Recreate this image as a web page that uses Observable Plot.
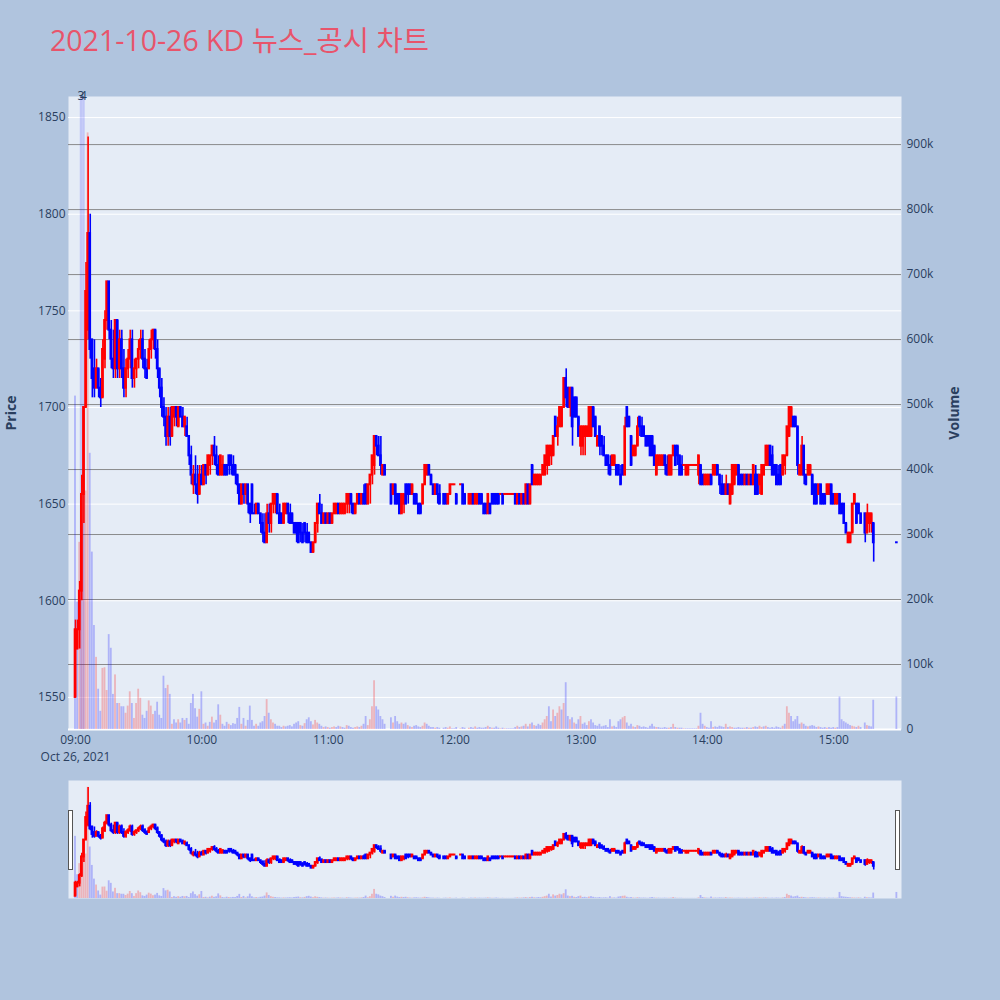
<!DOCTYPE html>
<html><head><meta charset="utf-8">
<script src="https://cdn.jsdelivr.net/npm/d3@7"></script>
<script src="https://cdn.jsdelivr.net/npm/@observablehq/plot@0.6"></script>
<style>
html,body{margin:0;padding:0;background:#b0c4de;}
#root{position:relative;width:1000px;height:1000px;overflow:hidden;font-family:"Open Sans",sans-serif;}
#root svg{position:absolute;left:0;}
.title{position:absolute;left:50px;top:20px;font-size:28.5px;line-height:40px;color:#e8546b;font-family:"Open Sans","Noto Sans CJK KR",sans-serif;white-space:nowrap;}
.ytitle{position:absolute;font-size:14px;font-weight:bold;color:#2a3f5f;transform:translate(-50%,-50%) rotate(-90deg);white-space:nowrap;font-family:"Open Sans",sans-serif;}
.grab{position:absolute;width:3px;height:58px;background:#fff;border:1px solid #555;}
</style></head>
<body><div id="root">
<div class="title">2021-10-26 KD 뉴스_공시 차트</div>
<div class="ytitle" style="left:10px;top:413px;">Price</div>
<div class="ytitle" style="left:953px;top:413px;">Volume</div>
</div>
<script>
// ---- data (minute candles, 2021-10-26) ----
const minutes = [...d3.range(0, 380), 390];
const opens = [
1550,1575,1585,1605,1655,1700,1740,1790,1735,1720,
1710,1720,1710,1705,1725,1745,1765,1740,1725,1720,
1745,1720,1735,1720,1710,1720,1725,1735,1715,1720,
1725,1730,1735,1725,1720,1720,1730,1735,1740,1730,
1720,1710,1700,1695,1685,1695,1685,1695,1700,1690,
1700,1695,1690,1690,1685,1675,1660,1665,1660,1655,
1665,1660,1670,1665,1670,1675,1680,1675,1670,1665,
1665,1670,1670,1675,1675,1670,1670,1665,1660,1650,
1660,1655,1660,1650,1660,1645,1645,1650,1645,1640,
1635,1630,1645,1640,1650,1650,1655,1645,1645,1640,
1645,1650,1645,1645,1640,1640,1640,1640,1635,1640,
1635,1635,1630,1625,1630,1640,1650,1645,1640,1645,
1640,1645,1640,1645,1645,1650,1645,1645,1645,1650,
1650,1655,1650,1645,1650,1655,1650,1655,1660,1650,
1660,1665,1670,1685,1680,1675,1665,1670,null,null,
1660,1655,1660,1655,1655,1645,1650,1660,1660,1660,
1655,1655,1655,1650,1650,1650,1660,1665,1670,1665,
1660,1655,1660,1655,null,1655,1655,1650,1655,1660,
1660,1655,null,1660,1660,1655,null,1650,1650,1655,
1650,1650,1655,1655,1650,1650,1645,1650,1655,1655,
1655,1655,1655,1655,1655,1655,1655,1655,1655,1655,
1650,1655,1650,1655,1650,1660,1650,1670,1660,1660,
1660,1660,1665,1665,1670,1670,1675,1675,1695,1685,
1690,1690,1700,1715,1710,1700,1710,1705,1705,1695,
1680,1680,1685,1685,1685,1685,1700,1695,1680,1690,
1685,1680,1675,1675,1670,1670,1670,1670,1670,1665,
1670,1665,1700,1695,1685,1675,1675,1680,1695,1690,
1690,1685,1685,1685,1685,1680,1665,1670,1670,1670,
1675,1670,1665,1665,1675,1680,1680,1675,1670,1670,
1665,1665,1670,1670,1670,1670,1665,1670,1665,1660,
1660,1660,1665,1665,1665,1670,1665,1660,1660,1655,
1660,1650,1655,1660,1665,1670,1665,1665,1660,1665,
1660,1665,1660,1665,1665,1660,1655,1665,1670,1670,
1680,1675,1670,1670,1665,1670,1665,1670,1675,1685,
1690,1695,1695,1690,1665,1665,1680,1665,1665,1665,
1665,1660,1660,1655,1660,1655,1655,1655,1655,1660,
1655,1650,1650,1655,1650,1650,1640,1630,1630,1635,
1650,1650,1650,1645,null,1645,1635,1640,1640,1640,
1630];
const highs = [
1590,1590,1610,1665,1700,1775,1840,1800,1735,1735,
1725,1720,1715,1735,1750,1765,1765,1745,1740,1745,
1745,1740,1740,1730,1725,1730,1740,1740,1725,1725,
1735,1740,1740,1730,1725,1735,1740,1740,1740,1735,
1720,1715,1705,1700,1700,1700,1700,1700,1700,1700,
1700,1700,1695,1695,1685,1680,1670,1675,1670,1670,
1670,1670,1670,1675,1675,1680,1685,1680,1675,1675,
1675,1670,1670,1675,1675,1675,1670,1665,1660,1660,
1660,1660,1660,1650,1660,1650,1650,1650,1645,1645,
1645,1650,1650,1650,1655,1655,1655,1650,1645,1650,
1650,1650,1650,1645,1640,1640,1640,1640,1640,1640,
1640,1635,1630,1630,1640,1650,1655,1650,1645,1645,
1645,1645,1645,1650,1650,1650,1650,1650,1650,1655,
1655,1655,1650,1650,1655,1655,1655,1660,1660,1660,
1665,1675,1685,1685,1685,1685,1670,1670,null,null,
1660,1660,1660,1655,1655,1655,1655,1660,1660,1660,
1660,1655,1655,1650,1650,1660,1670,1670,1670,1665,
1660,1660,1660,1660,null,1655,1655,1655,1660,1660,
1660,1655,null,1660,1660,1655,null,1655,1655,1655,
1655,1655,1655,1655,1650,1650,1655,1650,1655,1655,
1655,1655,1655,1655,1655,1655,1655,1655,1655,1655,
1655,1655,1655,1655,1660,1660,1660,1670,1665,1665,
1665,1665,1670,1675,1680,1680,1680,1685,1695,1695,
1700,1700,1715,1720,1710,1710,1710,1705,1705,1695,
1690,1690,1690,1690,1700,1700,1700,1695,1685,1690,
1685,1685,1675,1675,1675,1675,1675,1670,1670,1670,
1670,1695,1700,1695,1685,1680,1680,1695,1695,1695,
1690,1685,1685,1685,1685,1680,1675,1675,1675,1675,
1675,1675,1675,1675,1680,1680,1680,1675,1675,1670,
1670,1670,1670,1670,1670,1670,1675,1670,1665,1665,
1665,1665,1665,1670,1670,1670,1665,1665,1660,1665,
1660,1660,1670,1670,1670,1670,1665,1665,1665,1665,
1665,1665,1670,1670,1665,1665,1670,1670,1680,1680,
1680,1680,1670,1670,1670,1670,1675,1675,1690,1700,
1700,1695,1695,1690,1670,1685,1680,1665,1670,1670,
1665,1660,1660,1660,1660,1655,1655,1660,1660,1660,
1655,1655,1655,1655,1650,1650,1640,1635,1635,1650,
1655,1650,1650,1645,null,1645,1650,1645,1645,1640,
1630];
const lows = [
1550,1575,1575,1600,1640,1700,1735,1725,1705,1705,
1710,1705,1700,1705,1720,1740,1735,1720,1715,1715,
1715,1715,1715,1705,1705,1715,1720,1710,1710,1715,
1720,1725,1720,1715,1715,1720,1725,1730,1725,1715,
1705,1695,1690,1680,1680,1680,1685,1690,1690,1690,
1695,1690,1685,1685,1670,1660,1655,1655,1650,1655,
1660,1660,1660,1665,1665,1670,1670,1665,1665,1665,
1665,1665,1665,1665,1665,1665,1660,1655,1650,1650,
1650,1650,1645,1640,1645,1645,1645,1645,1635,1630,
1630,1630,1635,1635,1645,1645,1645,1640,1640,1640,
1645,1640,1640,1640,1635,1630,1630,1630,1630,1630,
1630,1630,1625,1625,1630,1635,1645,1640,1640,1640,
1640,1640,1640,1645,1645,1645,1645,1645,1645,1645,
1645,1645,1645,1645,1650,1650,1650,1650,1650,1650,
1650,1660,1665,1675,1675,1665,1665,1665,null,null,
1650,1655,1650,1650,1645,1645,1645,1650,1650,1655,
1655,1650,1650,1645,1645,1650,1660,1665,1665,1660,
1655,1655,1650,1650,null,1650,1650,1650,1655,1660,
1660,1650,null,1660,1650,1650,null,1650,1650,1650,
1650,1650,1650,1650,1645,1645,1645,1645,1650,1650,
1650,1650,1655,1650,1655,1655,1655,1655,1655,1650,
1650,1650,1650,1650,1650,1650,1650,1660,1660,1660,
1660,1660,1665,1665,1665,1670,1670,1675,1685,1680,
1690,1690,1700,1700,1700,1695,1680,1695,1695,1685,
1675,1675,1675,1685,1685,1685,1690,1685,1680,1675,
1675,1675,1670,1665,1665,1670,1670,1665,1665,1660,
1665,1665,1690,1690,1670,1675,1675,1680,1685,1685,
1685,1680,1680,1675,1675,1670,1665,1670,1670,1670,
1665,1665,1665,1665,1675,1670,1670,1665,1665,1670,
1665,1665,1670,1670,1670,1670,1660,1660,1660,1660,
1660,1660,1660,1665,1665,1665,1655,1655,1655,1655,
1655,1650,1655,1660,1665,1660,1660,1660,1660,1660,
1660,1660,1660,1655,1655,1655,1655,1665,1670,1670,
1670,1665,1665,1660,1660,1660,1665,1665,1675,1685,
1690,1690,1690,1665,1665,1665,1660,1660,1665,1665,
1655,1650,1650,1655,1650,1650,1650,1655,1655,1650,
1650,1650,1650,1645,1645,1640,1635,1630,1630,1635,
1650,1640,1645,1640,null,1630,1635,1635,1635,1620,
1630];
const closes = [
1585,1585,1605,1655,1700,1760,1790,1730,1715,1710,
1720,1710,1705,1730,1745,1765,1740,1725,1720,1745,
1720,1735,1720,1710,1720,1725,1735,1715,1720,1725,
1730,1735,1725,1720,1715,1730,1735,1740,1730,1720,
1710,1700,1695,1685,1695,1685,1700,1700,1695,1700,
1695,1690,1695,1685,1675,1665,1665,1660,1655,1665,
1660,1670,1665,1675,1675,1680,1675,1670,1665,1675,
1670,1665,1665,1670,1670,1665,1665,1660,1650,1660,
1655,1660,1650,1645,1645,1645,1650,1645,1640,1635,
1630,1645,1640,1650,1655,1655,1645,1640,1640,1650,
1650,1645,1640,1640,1635,1635,1630,1635,1630,1635,
1630,1630,1625,1630,1640,1650,1645,1640,1645,1640,
1645,1640,1645,1650,1650,1645,1650,1650,1650,1655,
1655,1650,1645,1650,1655,1650,1655,1650,1650,1660,
1665,1675,1685,1680,1675,1670,1670,1665,null,null,
1650,1660,1650,1650,1645,1655,1655,1650,1655,1655,
1660,1650,1650,1645,1645,1660,1670,1670,1665,1660,
1655,1660,1655,1650,null,1650,1650,1655,1660,1660,
1660,1650,null,1660,1650,1650,null,1655,1655,1650,
1655,1655,1650,1650,1645,1645,1655,1645,1650,1650,
1650,1650,1655,1650,1655,1655,1655,1655,1655,1650,
1655,1650,1655,1650,1660,1650,1660,1660,1665,1665,
1665,1665,1670,1675,1680,1680,1680,1685,1685,1690,
1700,1700,1715,1705,1700,1710,1690,1695,1695,1685,
1690,1690,1690,1690,1700,1700,1690,1685,1685,1680,
1680,1675,1670,1670,1665,1675,1675,1665,1665,1660,
1665,1690,1690,1690,1670,1680,1680,1690,1690,1685,
1685,1680,1680,1675,1675,1670,1675,1675,1675,1675,
1670,1665,1675,1675,1680,1670,1675,1665,1665,1670,
1670,1670,1670,1670,1670,1670,1675,1660,1660,1665,
1665,1665,1660,1670,1670,1665,1660,1655,1655,1660,
1655,1660,1670,1670,1670,1660,1660,1660,1665,1660,
1665,1660,1670,1655,1655,1665,1670,1670,1680,1680,
1670,1665,1665,1660,1660,1660,1675,1675,1690,1700,
1700,1690,1690,1670,1670,1680,1665,1660,1670,1670,
1655,1650,1650,1660,1650,1650,1650,1660,1660,1650,
1650,1655,1655,1645,1645,1640,1635,1635,1635,1650,
1655,1640,1645,1640,null,1635,1645,1645,1645,1630,
1630];
// volume in thousands of shares
const volumesK = [
513,196,288,350,400,367,918,425,273,160,
111,62,28,94,95,60,146,125,54,84,
40,40,35,35,25,36,58,40,17,40,
62,48,22,17,28,44,36,23,28,42,
22,17,82,63,68,54,8,15,10,15,
10,17,14,17,8,40,54,32,19,31,
58,8,10,5,11,19,10,14,38,22,
8,5,11,8,6,9,8,17,34,8,
17,5,14,36,14,5,8,5,10,12,
20,46,25,15,10,8,5,5,3,5,
4,5,6,4,8,10,12,6,5,9,
15,18,12,7,14,10,8,5,3,4,
3,2,3,4,3,5,4,3,2,6,
5,3,2,3,4,3,5,8,20,6,
15,35,75,35,30,20,15,8,0,0,
18,10,20,12,8,10,8,10,6,4,
3,5,6,4,3,5,10,8,5,3,
3,2,3,2,0,2,3,2,4,1,
1,3,0,1,3,2,0,2,3,2,
4,2,3,2,2,3,5,3,2,2,
4,2,1,2,1,1,1,1,1,3,
5,3,4,5,8,4,8,10,6,5,
8,6,10,15,20,35,12,30,20,25,
35,30,40,72,20,15,18,10,8,15,
20,8,10,6,12,15,10,6,5,8,
4,5,6,3,15,4,5,3,12,15,
18,20,10,5,8,4,3,6,5,3,
4,3,2,5,8,4,3,3,2,2,
3,2,2,3,8,3,2,2,2,1,
1,1,1,1,1,1,5,25,8,5,
3,2,12,3,4,3,5,4,3,8,
3,4,3,2,2,3,2,2,2,3,
2,2,3,4,3,5,3,4,5,3,
2,3,2,4,3,2,5,8,35,25,
20,12,15,20,8,10,8,5,4,5,
6,5,3,4,3,2,3,2,3,2,
3,2,3,50,15,12,10,8,6,5,
4,3,5,3,0,10,6,5,4,45,
50];
// news markers (minutes after 09:00) and their labels
const newsMinutes = [2.6, 3.8];
const newsLabels = ["3", "4"];
// axis ticks
const priceTicks = [1550, 1600, 1650, 1700, 1750, 1800, 1850];
const volumeTicks = [0, 100000, 200000, 300000, 400000, 500000, 600000, 700000, 800000, 900000];
const hourTicks = [9, 10, 11, 12, 13, 14, 15];
const dateLabel = "Oct 26, 2021";

// ---- build ----
const base = Date.UTC(2021, 9, 26, 9, 0);
const toDate = m => new Date(base + m * 60000);
let rows = minutes.map((m, i) => ({
  date: toDate(m), open: opens[i], high: highs[i], low: lows[i], close: closes[i], volume: volumesK[i] * 1000
})).filter(d => d.open != null);
let prevC = null, prevUp = true;
rows.forEach(d => {
  let up;
  if (d.close > d.open) up = true;
  else if (d.close < d.open) up = false;
  else if (prevC != null && d.close !== prevC) up = d.close > prevC;
  else up = prevUp;
  d.up = up;
  d.volUp = prevC != null && d.close > prevC;
  prevC = d.close; prevUp = up;
});
const news = newsMinutes.map((m, i) => ({date: toDate(m), label: newsLabels[i]}));
const ticksX = hourTicks.map(h => new Date(Date.UTC(2021, 9, 26, h)));
const fmtHM = d3.utcFormat("%H:%M");

const RED = "#ff0000", BLUE = "#0000ff";
const cColor = d => d.up ? RED : BLUE;
const vColor = d => d.volUp ? RED : BLUE;
const xDomain = [toDate(-3.32), toDate(392.2)];
const priceDomain = [1533.4, 1860.9];
const volDomain = [0, 974000];
const root = document.getElementById("root");
const baseStyle = {background: "transparent", fontFamily: "'Open Sans', sans-serif", fontSize: "12px", color: "#2a3f5f", overflow: "visible"};

function addLayer(top, opts) {
  const svg = Plot.plot(Object.assign({width: 1000, style: baseStyle}, opts));
  svg.style.position = "absolute";
  svg.style.top = top + "px";
  svg.style.left = "0px";
  root.appendChild(svg);
}
const mainDims = {height: 769, marginTop: 96, marginBottom: 40, marginLeft: 68, marginRight: 99};
const sliderDims = {height: 130, marginTop: 10, marginBottom: 2, marginLeft: 68, marginRight: 99};

// candle marks
const candleMarks = (wick) => [
  Plot.ruleX(rows, {x: "date", y1: "low", y2: "high", stroke: cColor, strokeWidth: wick}),
  Plot.rect(rows, {x1: d => new Date(+d.date - 9000), x2: d => new Date(+d.date + 9000), y1: "open", y2: "close", fill: cColor, inset: -1})
];
const volumeMark = Plot.rect(rows, {x1: d => new Date(+d.date - 26000), x2: d => new Date(+d.date + 26000), y1: 0, y2: "volume", fill: vColor, fillOpacity: 0.24});

// Layer 1: background, price grid & axes
addLayer(0, Object.assign({}, mainDims, {
  x: {type: "utc", domain: xDomain},
  y: {domain: priceDomain},
  marks: [
    Plot.frame({fill: "#e5ecf6", stroke: "none"}),
    Plot.gridY(priceTicks, {stroke: "#ffffff", strokeOpacity: 1, strokeWidth: 1}),
    Plot.axisY(priceTicks, {tickSize: 0, tickPadding: 3, label: null, fontSize: 12, tickFormat: d => String(d)}),
    Plot.axisX(ticksX, {tickSize: 0, tickPadding: 6, label: null, fontSize: 12, tickFormat: d => fmtHM(d)}),
    Plot.axisX(ticksX.slice(0, 1), {tickSize: 0, tickPadding: 23, label: null, fontSize: 12, tickFormat: () => dateLabel})
  ]
}));
// Layer 2: volume grid, bars & right axis
addLayer(0, Object.assign({}, mainDims, {
  x: {type: "utc", domain: xDomain, axis: null},
  y: {domain: volDomain},
  marks: [
    Plot.gridY(volumeTicks.filter(v => v > 0), {stroke: "#808080", strokeOpacity: 0.9, strokeWidth: 1}),
    Plot.ruleY([0], {stroke: "#ffffff", strokeWidth: 2}),
    volumeMark,
    Plot.axisY(volumeTicks, {anchor: "right", tickSize: 0, tickPadding: 5, label: null, fontSize: 12,
      tickFormat: v => v === 0 ? "0" : (v / 1000) + "k"})
  ]
}));
// Layer 3: news markers & candles
addLayer(0, Object.assign({}, mainDims, {
  x: {type: "utc", domain: xDomain, axis: null},
  y: {domain: priceDomain, axis: null},
  marks: [
    Plot.ruleX(news, {x: "date", stroke: BLUE, strokeOpacity: 0.16, strokeWidth: 2.4}),
    ...candleMarks(1.6),
    Plot.text(news, {x: "date", frameAnchor: "top", lineAnchor: "middle", text: "label", fill: "#2a3f5f", fontSize: 12})
  ]
}));
// Range slider
addLayer(770, Object.assign({}, sliderDims, {
  x: {type: "utc", domain: xDomain, axis: null},
  y: {domain: volDomain, axis: null},
  marks: [Plot.frame({fill: "#e5ecf6", stroke: "none"}), volumeMark]
}));
addLayer(770, Object.assign({}, sliderDims, {
  x: {type: "utc", domain: xDomain, axis: null},
  y: {domain: [1544, 1859], axis: null},
  marks: candleMarks(1.6)
}));
// slider grabbers
for (const left of [68, 895]) {
  const g = document.createElement("div");
  g.className = "grab";
  g.style.left = left + "px";
  g.style.top = "810px";
  root.appendChild(g);
}
</script>
</body></html>
